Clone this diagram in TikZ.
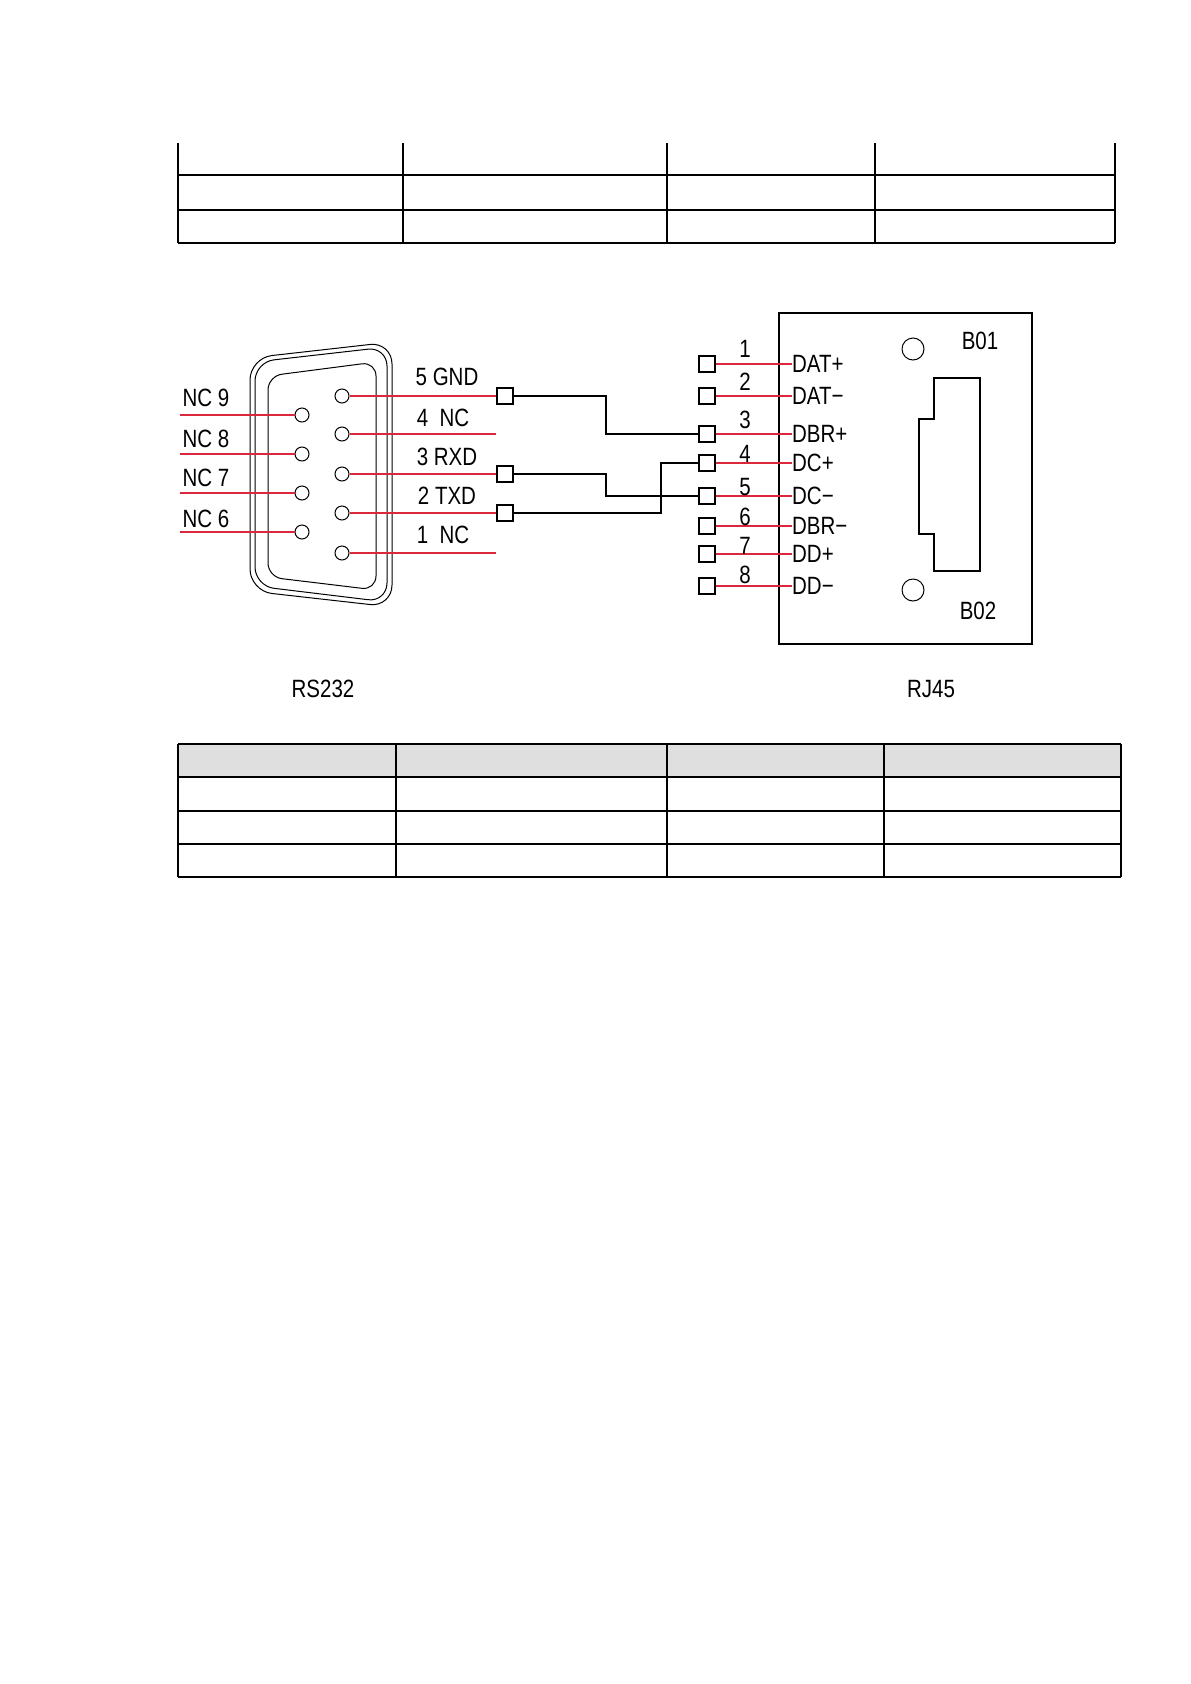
\documentclass[tikz,border=0pt]{standalone}
\usepackage{fontspec}
\setmainfont{Liberation Sans}
\begin{document}
\begin{tikzpicture}[x=1pt,y=-1pt,
  tl/.style={line width=2pt},
  rw/.style={draw={rgb,255:red,220;green,40;blue,60},line width=1.6pt},
  bw/.style={line width=1.6pt},
  pin/.style={circle,draw,line width=1pt,minimum size=14pt,inner sep=0pt},
  sq/.style={rectangle,draw,line width=1.6pt,minimum width=16pt,minimum height=16pt,inner sep=0pt},
  lbl/.style={font=\fontsize{25}{25}\selectfont,xscale=0.82,inner sep=0pt}]
\useasboundingbox (0,0) rectangle (1191,1684);
% top table
\foreach \x in {178,403,667,875,1115} \draw[tl] (\x,143) -- (\x,243);
\foreach \y in {175,210,243} \draw[tl] (178,\y) -- (1115,\y);
% bottom table
\fill[gray!25] (178,744) rectangle (1121,777);
\foreach \x in {178,396,667,884,1121} \draw[tl] (\x,744) -- (\x,877);
\foreach \y in {744,777,811,844,877} \draw[tl] (178,\y) -- (1121,\y);
% DB9 shell
\draw[line width=1pt,rounded corners=22pt] (250,358) -- (392,342) -- (392,607) -- (250,591) -- cycle;
\draw[line width=1pt,rounded corners=19pt] (255,362) -- (387,347) -- (387,602) -- (255,586) -- cycle;
\draw[line width=1pt,rounded corners=14pt] (268,376) -- (376,362) -- (376,590) -- (268,577) -- cycle;
% pins
\foreach \n/\y in {5/396,4/434,3/474,2/513,1/553} {
  \node[pin] (p\n) at (342,\y) {};
  \coordinate (e\n) at (496,\y);
  \draw[rw] (p\n.east) -- (e\n);
}
\foreach \n/\y in {9/415,8/454,7/493,6/532} {
  \node[pin] (p\n) at (302,\y) {};
  \coordinate (s\n) at (180,\y);
  \draw[rw] (s\n) -- (p\n.west);
}
\node[sq,anchor=west] (g5) at (496,396) {};
\node[sq,anchor=west] (g3) at (496,474) {};
\node[sq,anchor=west] (g2) at (496,513) {};
% DB9 labels
\node[lbl] at (447,377) {5 GND};
\node[lbl] at (443,418) {4\ \ NC};
\node[lbl] at (447,457) {3 RXD};
\node[lbl] at (447,496) {2 TXD};
\node[lbl] at (443,535) {1\ \ NC};
\node[lbl] at (206,398) {NC 9};
\node[lbl] at (206,439) {NC 8};
\node[lbl] at (206,478) {NC 7};
\node[lbl] at (206,519) {NC 6};
% RJ45
\draw[line width=1.2pt] (779,313) rectangle (1032,644);
\foreach \n/\y/\t in {1/364/DAT+,2/396/DAT\textminus,3/434/DBR+,4/463/DC+,5/496/DC\textminus,6/526/DBR\textminus,7/554/DD+,8/586/DD\textminus} {
  \node[sq] (r\n) at (707,\y) {};
  \coordinate (t\n) at (792,\y);
  \draw[rw] (r\n.east) -- (t\n);
  \node[lbl,anchor=west] at (792,\y) {\t};
}
\foreach \n/\y in {1/349,2/382,3/420,4/454,5/487,6/517,7/546,8/575}
  \node[lbl] at (745,\y) {\n};
% wires
\draw[bw] (g5.east) -| (606,434) -- (r3.west);
\draw[bw] (g3.east) -| (606,496) -- (r5.west);
\draw[bw] (g2.east) -| (661,463) -- (r4.west);
% RJ45 details
\draw[line width=1pt] (913,349) circle (11);
\draw[line width=1pt] (913,590) circle (11);
\node[lbl] at (980,341) {B01};
\node[lbl] at (978,611) {B02};
\draw[line width=1.2pt] (934,378) -- (980,378) -- (980,571) -- (934,571) -- (934,534) -- (919,534) -- (919,419) -- (934,419) -- cycle;
\node[lbl] at (323,689) {RS232};
\node[lbl] at (931,689) {RJ45};
\end{tikzpicture}
\end{document}
